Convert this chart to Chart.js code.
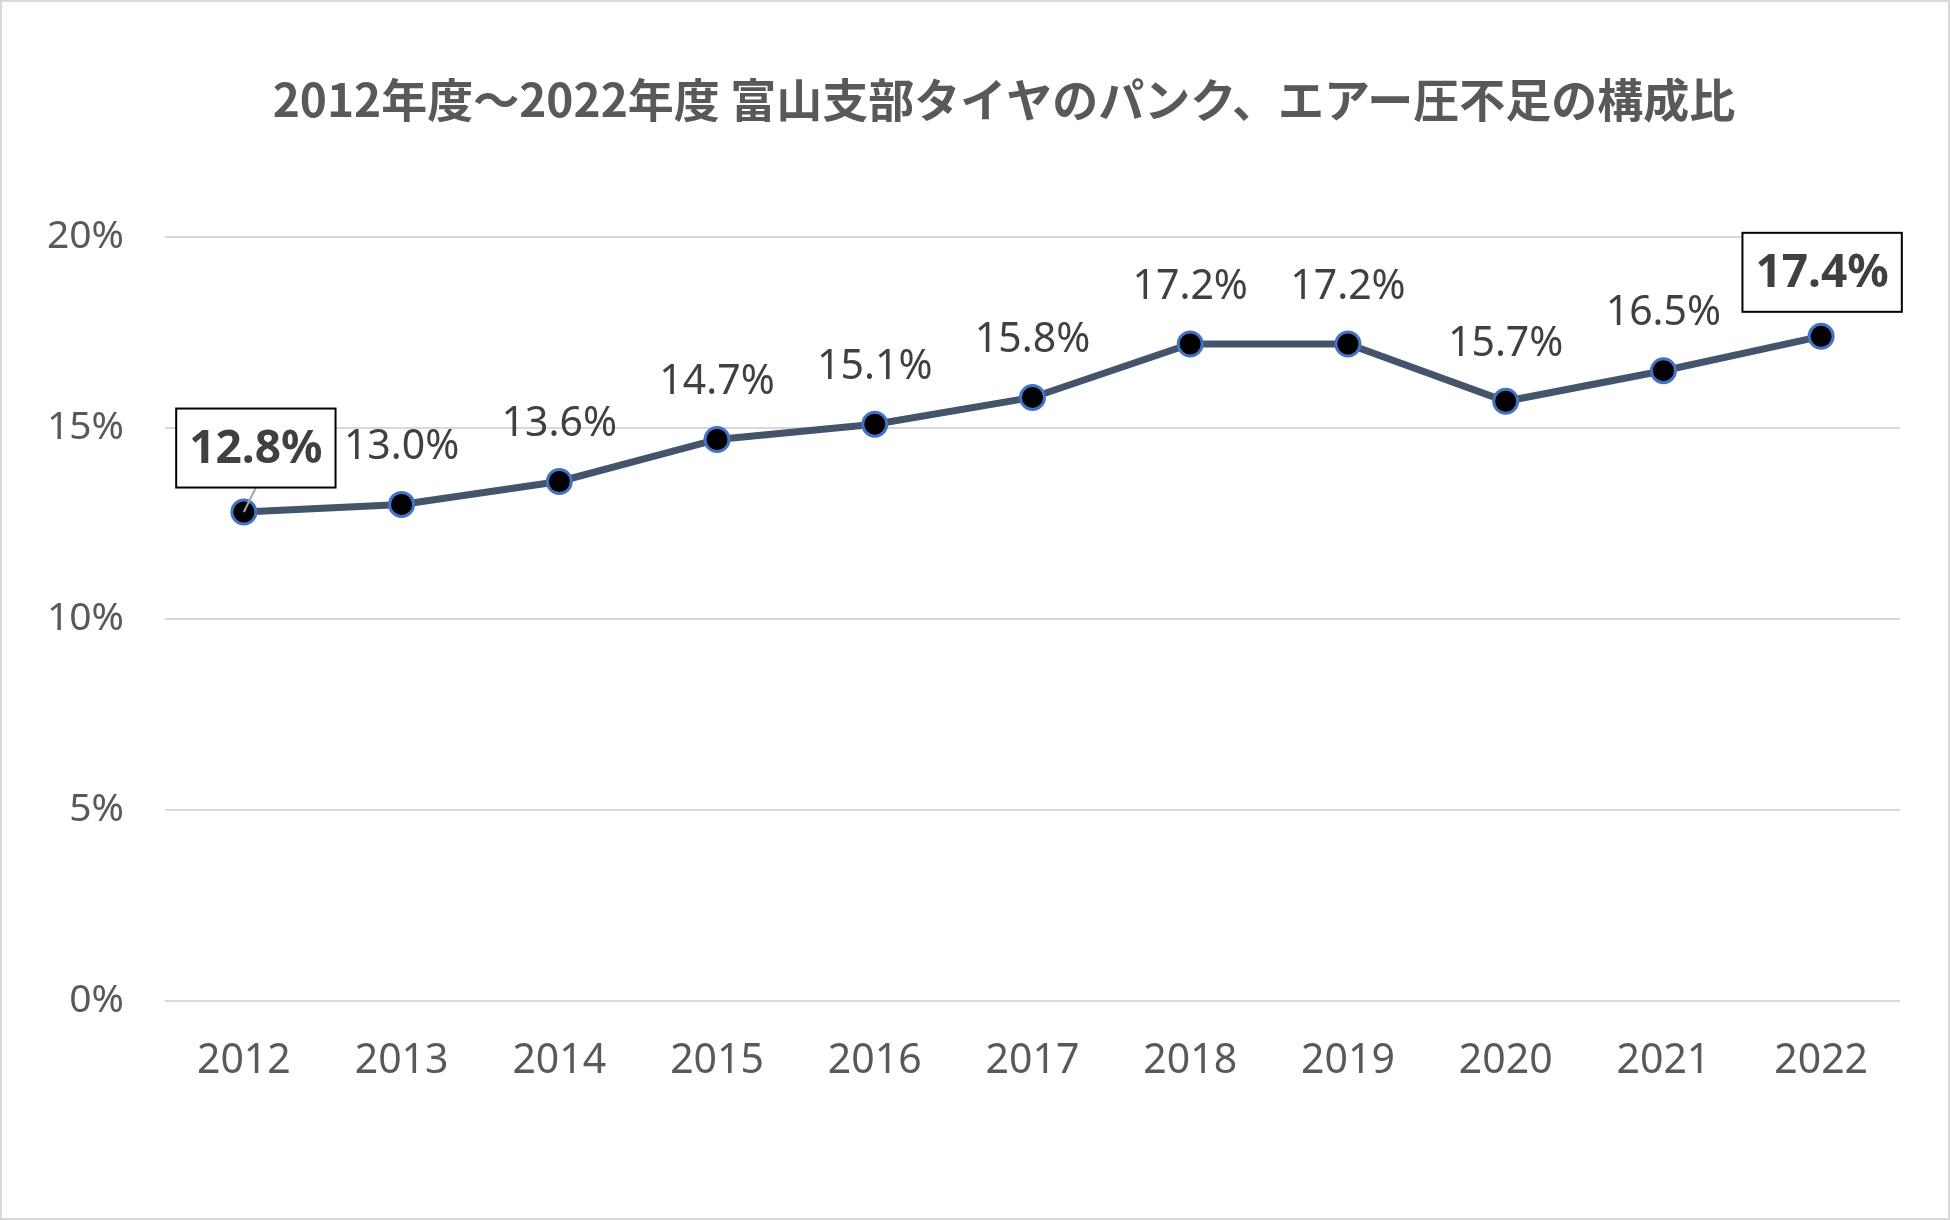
<!DOCTYPE html>
<html lang="ja">
<head>
<meta charset="UTF-8">
<script src="https://cdn.jsdelivr.net/npm/chart.js"></script>
<title>タイヤのパンク、エアー圧不足の構成比</title>
<style>
  body { margin: 0; background: #fff; }
  #wrap { width: 1950px; height: 1220px; }
</style>
</head>
<body>
<div id="wrap"><canvas id="myChart"></canvas></div>
<script>
// data
const years = ['2012', '2013', '2014', '2015', '2016', '2017', '2018', '2019', '2020', '2021', '2022'];
const shares = [12.8, 13.0, 13.6, 14.7, 15.1, 15.8, 17.2, 17.2, 15.7, 16.5, 17.4];
const yTicks = [0, 5, 10, 15, 20];
const boxedIdx = [0, 10];   // labels shown bold in a box
const titleText = '2012年度～2022年度 富山支部タイヤのパンク、エアー圧不足の構成比';

const txtFont = '"Noto Sans", "DejaVu Sans", sans-serif';

// white background, thin frame and the title (centred a bit right of the canvas middle, like the original)
const frame = {
  id: 'frame',
  beforeDraw(chart) {
    const c = chart.ctx;
    c.save();
    c.fillStyle = '#fff';
    c.fillRect(0, 0, chart.width, chart.height);
    c.strokeStyle = '#d9d9d9';
    c.lineWidth = 2;
    c.strokeRect(1, 1, chart.width - 2, chart.height - 2);
    c.fillStyle = '#595959';
    c.font = 'bold 46px "Noto Sans CJK JP", sans-serif';
    c.textAlign = 'center';
    c.textBaseline = 'middle';
    c.fillText(titleText, 1004, 100);
    c.restore();
  }
};

// value labels above each point
const valueLabels = {
  id: 'valueLabels',
  afterDatasetsDraw(chart) {
    const c = chart.ctx;
    const pts = chart.getDatasetMeta(0).data;
    c.save();
    c.textAlign = 'center';
    c.textBaseline = 'middle';
    pts.forEach((p, i) => {
      const txt = shares[i].toFixed(1) + '%';
      if (boxedIdx.includes(i)) {
        const dx = i === 0 ? 12 : 1;
        const cx = p.x + dx, cy = p.y - 64;
        c.font = 'bold 46px ' + txtFont;
        const w = c.measureText(txt).width + 26, h = 79;
        // leader line
        if (i === 0) {
          c.strokeStyle = '#a6a6a6';
          c.lineWidth = 2;
          c.beginPath();
          c.moveTo(cx, cy + h / 2);
          c.lineTo(p.x, p.y);
          c.stroke();
        }
        c.fillStyle = '#fff';
        c.fillRect(cx - w / 2, cy - h / 2, w, h);
        c.strokeStyle = '#000';
        c.lineWidth = 2;
        c.strokeRect(cx - w / 2, cy - h / 2, w, h);
        c.fillStyle = '#404040';
        c.fillText(txt, cx, cy + 2);
      } else {
        c.font = '41px ' + txtFont;
        c.fillStyle = '#404040';
        c.fillText(txt, p.x, p.y - 57);
      }
    });
    c.restore();
  }
};

const ctx = document.getElementById('myChart').getContext('2d');
new Chart(ctx, {
  type: 'line',
  data: {
    labels: years,
    datasets: [{
      data: shares,
      borderColor: '#44546A',
      borderWidth: 7,
      pointRadius: 12,
      pointHoverRadius: 12,
      pointBackgroundColor: '#000',
      pointBorderColor: '#4472C4',
      pointBorderWidth: 3,
      tension: 0
    }]
  },
  options: {
    responsive: true,
    maintainAspectRatio: false,
    animation: false,
    devicePixelRatio: 1,
    layout: { padding: { left: 0, right: 50, top: 237, bottom: 0 } },
    plugins: {
      legend: { display: false },
      tooltip: { enabled: false },
      title: { display: false }
    },
    scales: {
      x: {
        offset: true,
        grid: { display: false, drawTicks: false },
        border: { display: false },
        ticks: { color: '#595959', font: { family: txtFont, size: 41 }, padding: 36, maxRotation: 0 },
        afterFit(s) { s.height = 219; }
      },
      y: {
        min: 0,
        max: 20,
        afterBuildTicks(s) { s.ticks = yTicks.map(v => ({ value: v })); },
        grid: { color: '#d9d9d9', lineWidth: 2, drawTicks: false },
        border: { display: false },
        ticks: {
          color: '#595959',
          font: { family: txtFont, size: 39 },
          padding: 41,
          callback: v => v + '%'
        },
        afterFit(s) { s.width = 165; }
      }
    }
  },
  plugins: [frame, valueLabels]
});
</script>
</body>
</html>
